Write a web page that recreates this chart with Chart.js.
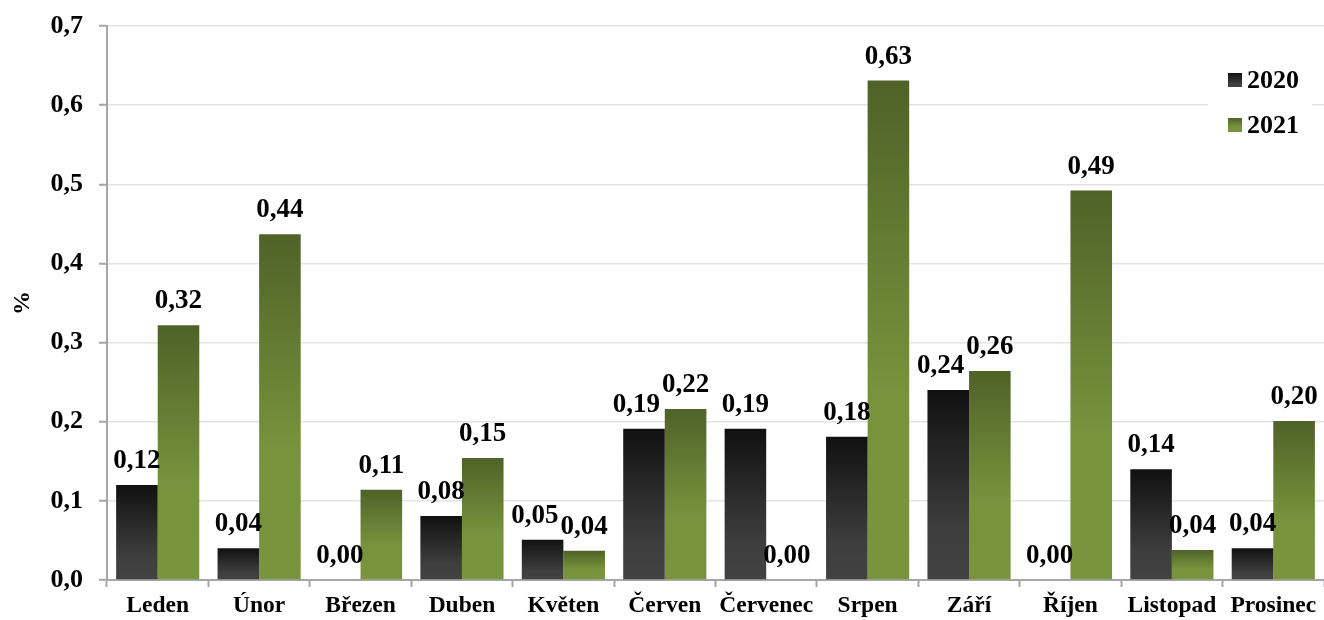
<!DOCTYPE html>
<html lang="cs"><head><meta charset="utf-8">
<script src="https://cdn.jsdelivr.net/npm/chart.js@4.4.1/dist/chart.umd.min.js"></script>
<style>html,body{margin:0;padding:0;background:#fff;}#wrap{width:1324px;height:620px;position:relative;}</style>
</head><body><div id="wrap"><canvas id="c"></canvas></div>
<script>
const categories = ['Leden','Únor','Březen','Duben','Květen','Červen','Červenec','Srpen','Září','Říjen','Listopad','Prosinec'];
const seriesNames = ['2020','2021'];
const values2020 = [0.12, 0.04, 0.00, 0.081, 0.051, 0.191, 0.191, 0.181, 0.24, 0.00, 0.14, 0.04];
const values2021 = [0.322, 0.437, 0.114, 0.154, 0.037, 0.216, 0.00, 0.631, 0.264, 0.492, 0.038, 0.201];
const yTickLabels = ['0,0','0,1','0,2','0,3','0,4','0,5','0,6','0,7'];
const yAxisTitle = '%';

const FONT = 'Liberation Serif';
const palettes = [
  [[0,'#111111'],[0.75,'#3e3e3e'],[1,'#424242']],
  [[0,'#4f6228'],[0.62,'#77933c'],[1,'#78943d']]
];
function makeGrad(c, top, bottom, stops){
  const g = c.createLinearGradient(0, top, 0, bottom);
  stops.forEach(s => g.addColorStop(s[0], s[1]));
  return g;
}
function barFill(ctx){
  const chart = ctx.chart;
  const stops = palettes[ctx.datasetIndex] || palettes[0];
  const ys = chart.scales && chart.scales.y;
  if (!ys || !chart.chartArea || ctx.type !== 'data') return stops[1][1];
  const v = ctx.parsed && ctx.parsed.y != null ? ctx.parsed.y : ctx.raw;
  const top = ys.getPixelForValue(v), bottom = ys.getPixelForValue(0);
  if (!(bottom - top > 0.5)) return stops[1][1];
  return makeGrad(chart.ctx, top, bottom, stops);
}

const valueLabels = {
  id: 'valueLabels',
  afterDatasetsDraw(chart){
    const c = chart.ctx;
    c.save();
    c.font = 'bold 27px "' + FONT + '"';
    c.fillStyle = '#000';
    c.textAlign = 'center';
    c.textBaseline = 'alphabetic';
    const n = chart.data.labels.length;
    for (let i = 0; i < n; i++){
      const items = chart.data.datasets.map((ds, d) => {
        const el = chart.getDatasetMeta(d).data[i];
        const txt = ds.data[i].toFixed(2).replace('.', ',');
        return {x: el.x, y: Math.min(el.y, el.base) - 17, txt, w: c.measureText(txt).width};
      });
      const a = items[0], b = items[1];
      if (Math.abs(a.y - b.y) < 24){
        const overlap = (a.x + a.w/2) - (b.x - b.w/2);
        if (overlap > 0) a.x -= overlap + 2;
      }
      items.forEach(it => c.fillText(it.txt, it.x, it.y));
    }
    c.restore();
  }
};

const boxLegend = {
  id: 'boxLegend',
  afterDraw(chart){
    const c = chart.ctx;
    c.save();
    c.fillStyle = '#fff';
    c.fillRect(1208, 58, 104, 92);
    c.font = 'bold 26px "' + FONT + '"';
    c.textAlign = 'left';
    c.textBaseline = 'middle';
    chart.data.datasets.forEach((ds, d) => {
      const cy = 80 + d * 45;
      c.fillStyle = makeGrad(c, cy - 7, cy + 7, palettes[d]);
      c.fillRect(1228, cy - 7, 14, 14);
      c.fillStyle = '#000';
      c.fillText(ds.label, 1247, cy + 1);
    });
    c.restore();
  }
};

new Chart(document.getElementById('c'), {
  type: 'bar',
  data: {
    labels: categories,
    datasets: [
      {label: seriesNames[0], data: values2020, backgroundColor: barFill, borderWidth: 0, categoryPercentage: 0.82, barPercentage: 1},
      {label: seriesNames[1], data: values2021, backgroundColor: barFill, borderWidth: 0, categoryPercentage: 0.82, barPercentage: 1}
    ]
  },
  options: {
    responsive: true,
    maintainAspectRatio: false,
    animation: false,
    layout: {padding: {top: 26, right: 0, bottom: 0, left: 0}},
    plugins: {legend: {display: false}, tooltip: {enabled: false}, title: {display: false}},
    scales: {
      x: {
        offset: true,
        grid: {offset: true, drawOnChartArea: false, drawTicks: true, tickLength: 7, tickColor: '#a6a6a6', tickWidth: 2},
        border: {color: '#a6a6a6', width: 2},
        ticks: {font: {family: FONT, size: 23.5, weight: 'bold'}, color: '#000', padding: 5, maxRotation: 0, autoSkip: false},
        afterFit(s){ s.height = 40; s.paddingLeft = 0; s.paddingRight = 0; }
      },
      y: {
        min: 0, max: 0.7,
        ticks: {stepSize: 0.1, callback: (v, i) => yTickLabels[i], font: {family: FONT, size: 26, weight: 'bold'}, color: '#000', padding: 16},
        grid: {color: (ctx) => (ctx.tick && ctx.tick.value === 0) ? 'rgba(0,0,0,0)' : '#e3e3e3', lineWidth: 1.5, tickLength: 8, tickColor: '#a6a6a6', tickWidth: 2},
        border: {color: '#a6a6a6', width: 2},
        title: {display: true, text: yAxisTitle, font: {family: FONT, size: 24, weight: 'bold'}, color: '#000', padding: {top: 8, bottom: 0}},
        afterFit(s){ s.width = 107; s.paddingTop = 0; s.paddingBottom = 0; }
      }
    }
  },
  plugins: [valueLabels, boxLegend]
});
</script>
</body></html>
